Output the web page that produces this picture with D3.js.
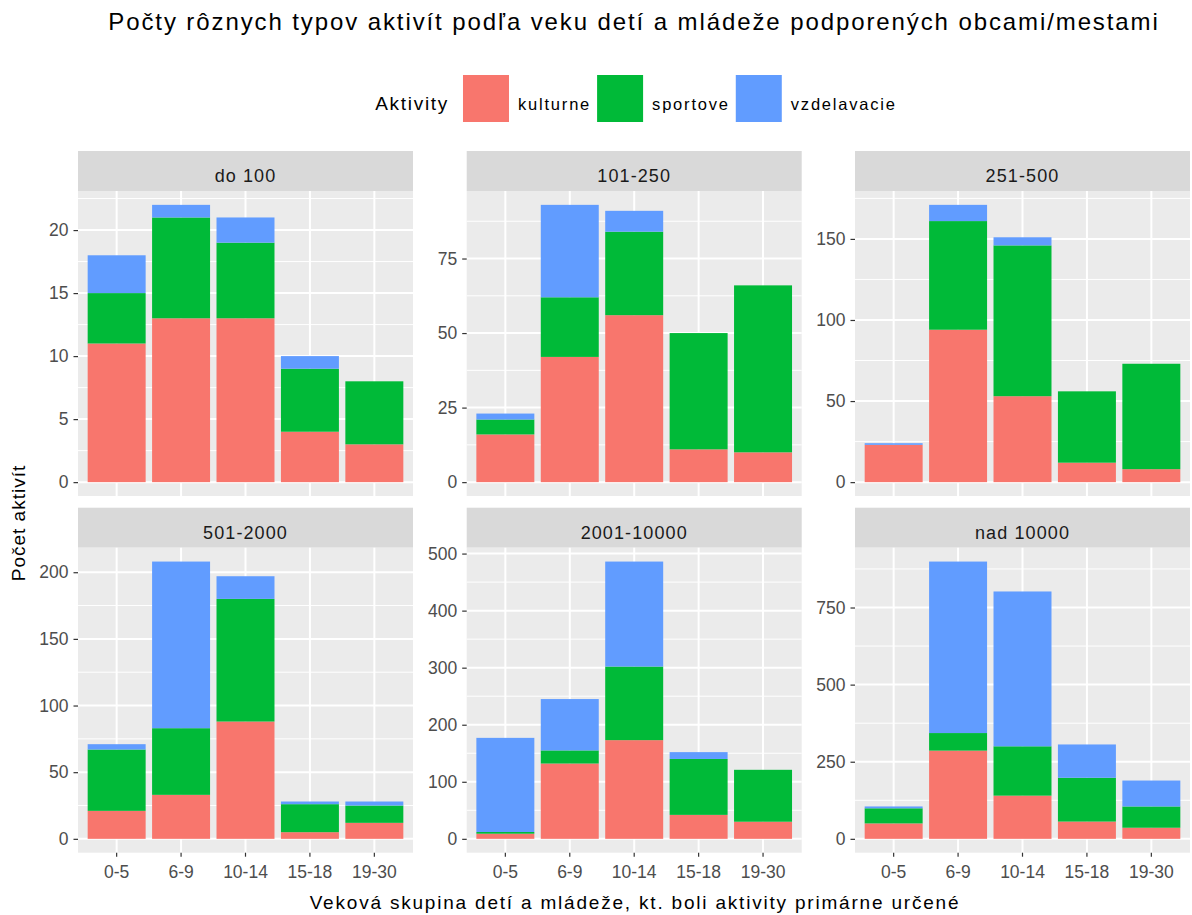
<!DOCTYPE html>
<html>
<head>
<meta charset="utf-8">
<script src="https://cdn.jsdelivr.net/npm/d3@7"></script>
<style>
  body { margin: 0; background: #fff; }
  text { font-family: "Liberation Sans", Arial, sans-serif; }
</style>
</head>
<body>
<svg id="chart" width="1192" height="915"></svg>
<script>
const ageGroups = ["0-5", "6-9", "10-14", "15-18", "19-30"];
const facets = ["do 100", "101-250", "251-500", "501-2000", "2001-10000", "nad 10000"];
const activities = ["kulturne", "sportove", "vzdelavacie"];

// per facet, per age group
const kulturne = [
  [11, 13, 13, 4, 3],
  [16, 42, 56, 11, 10],
  [23, 94, 53, 12, 8],
  [21, 33, 88, 5, 12],
  [9, 132, 173, 42, 30],
  [50, 286, 140, 56, 36]
];
const sportove = [
  [4, 8, 6, 5, 5],
  [5, 20, 28, 39, 56],
  [0, 67, 93, 44, 65],
  [46, 50, 92, 21, 13],
  [3, 23, 129, 98, 91],
  [49, 57, 160, 142, 69]
];
const vzdelavacie = [
  [3, 1, 2, 1, 0],
  [2, 31, 7, 0, 0],
  [1, 10, 5, 0, 0],
  [4, 125, 17, 2, 3],
  [165, 90, 184, 12, 0],
  [6, 556, 502, 108, 84]
];
const yTicks = [
  [0, 5, 10, 15, 20],
  [0, 25, 50, 75],
  [0, 50, 100, 150],
  [0, 50, 100, 150, 200],
  [0, 100, 200, 300, 400, 500],
  [0, 250, 500, 750]
];

const COLORS = ["#F8766D", "#00BA38", "#619CFF"];
const DIMS = {
  COL_X: [78, 466.7, 855],
  ROW_Y: [191, 547.7],
  W: 335,
  H: 305,
  STRIP: 40
};

const svg = d3.select("#chart");
const color = d3.scaleOrdinal().domain(activities).range(COLORS);

// title
svg.append("text")
  .attr("x", 634).attr("y", 29.5)
  .attr("text-anchor", "middle")
  .attr("font-size", 24)
  .attr("letter-spacing", 1.9)
  .attr("fill", "#000")
  .text("Počty rôznych typov aktivít podľa veku detí a mládeže podporených obcami/mestami");

// legend
const legend = svg.append("g");
const lt = legend.append("text")
  .attr("x", 0).attr("y", 109.5)
  .attr("font-size", 19)
  .attr("letter-spacing", 1.7)
  .attr("fill", "#000")
  .text("Aktivity");
let lx = lt.node().getComputedTextLength() + 14;
activities.forEach((a) => {
  legend.append("rect")
    .attr("x", lx).attr("y", 75)
    .attr("width", 46).attr("height", 47)
    .attr("fill", color(a));
  const t = legend.append("text")
    .attr("x", lx + 55).attr("y", 109.5)
    .attr("font-size", 16.5)
    .attr("letter-spacing", 1.8)
    .attr("fill", "#000")
    .text(a);
  lx += 55 + t.node().getComputedTextLength() + 6;
});
const lw = legend.node().getBBox().width;
legend.attr("transform", `translate(${636 - lw / 2},0)`);

const x = d3.scaleBand().domain(ageGroups)
  .range([0, DIMS.W]).paddingInner(0.1).paddingOuter(0.15);

facets.forEach((name, fi) => {
  const col = fi % 3, row = Math.floor(fi / 3);
  const g = svg.append("g")
    .attr("transform", `translate(${DIMS.COL_X[col]},${DIMS.ROW_Y[row]})`);

  const rows = ageGroups.map((age, i) => ({
    age,
    kulturne: kulturne[fi][i],
    sportove: sportove[fi][i],
    vzdelavacie: vzdelavacie[fi][i]
  }));
  const series = d3.stack().keys(activities)(rows);
  const maxV = d3.max(rows, (d) => d.kulturne + d.sportove + d.vzdelavacie);
  const y = d3.scaleLinear()
    .domain([-0.05 * maxV, 1.05 * maxV])
    .range([DIMS.H, 0]);

  // strip
  g.append("rect")
    .attr("x", 0).attr("y", -DIMS.STRIP)
    .attr("width", DIMS.W).attr("height", DIMS.STRIP)
    .attr("fill", "#D9D9D9");
  g.append("text")
    .attr("x", DIMS.W / 2).attr("y", -DIMS.STRIP + 31)
    .attr("text-anchor", "middle")
    .attr("font-size", 18)
    .attr("letter-spacing", 1.1)
    .attr("fill", "#1A1A1A")
    .text(name);

  // panel background
  g.append("rect")
    .attr("width", DIMS.W).attr("height", DIMS.H)
    .attr("fill", "#EBEBEB");

  // minor grid
  const ticks = yTicks[fi];
  const step = ticks[1] - ticks[0];
  const minor = d3.range(ticks[0] - step / 2, y.domain()[1], step)
    .filter((v) => v > y.domain()[0]);
  g.selectAll(".minor")
    .data(minor)
    .join("line")
    .attr("x1", 0).attr("x2", DIMS.W)
    .attr("y1", (d) => y(d)).attr("y2", (d) => y(d))
    .attr("stroke", "#fff").attr("stroke-width", 1);

  // major grid
  g.selectAll(".hmajor")
    .data(ticks)
    .join("line")
    .attr("x1", 0).attr("x2", DIMS.W)
    .attr("y1", (d) => y(d)).attr("y2", (d) => y(d))
    .attr("stroke", "#fff").attr("stroke-width", 2);
  g.selectAll(".vmajor")
    .data(ageGroups)
    .join("line")
    .attr("x1", (d) => x(d) + x.bandwidth() / 2)
    .attr("x2", (d) => x(d) + x.bandwidth() / 2)
    .attr("y1", 0).attr("y2", DIMS.H)
    .attr("stroke", "#fff").attr("stroke-width", 2);

  // bars
  g.selectAll(".layer")
    .data(series)
    .join("g")
    .attr("fill", (s) => color(s.key))
    .selectAll("rect")
    .data((s) => s)
    .join("rect")
    .attr("x", (d) => x(d.data.age))
    .attr("width", x.bandwidth())
    .attr("y", (d) => y(d[1]))
    .attr("height", (d) => y(d[0]) - y(d[1]));

  // y axis
  const ya = g.append("g")
    .call(d3.axisLeft(y).tickValues(ticks).tickSize(4.5).tickPadding(5));
  ya.select(".domain").remove();
  ya.selectAll("line").attr("stroke", "#333").attr("stroke-width", 1.2);
  ya.selectAll("text")
    .attr("font-size", 17.5)
    .attr("fill", "#4D4D4D");

  // x axis only on bottom row
  if (row === 1) {
    const xa = g.append("g")
      .attr("transform", `translate(0,${DIMS.H})`)
      .call(d3.axisBottom(x).tickSize(4).tickPadding(9));
    xa.select(".domain").remove();
    xa.selectAll("line").attr("stroke", "#333").attr("stroke-width", 1.2);
    xa.selectAll("text")
      .attr("font-size", 17.5)
      .attr("fill", "#4D4D4D");
  }
});

// axis titles
svg.append("text")
  .attr("x", 635).attr("y", 909)
  .attr("text-anchor", "middle")
  .attr("font-size", 19)
  .attr("letter-spacing", 1.8)
  .attr("fill", "#000")
  .text("Veková skupina detí a mládeže, kt. boli aktivity primárne určené");

svg.append("text")
  .attr("transform", "translate(25,523) rotate(-90)")
  .attr("text-anchor", "middle")
  .attr("font-size", 19)
  .attr("letter-spacing", 1)
  .attr("fill", "#000")
  .text("Počet aktivít");
</script>
</body>
</html>
